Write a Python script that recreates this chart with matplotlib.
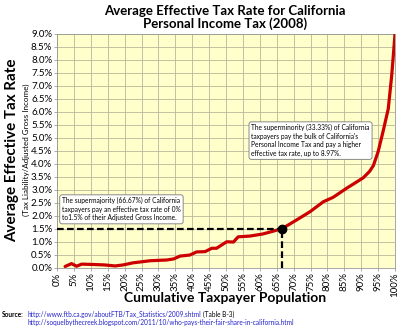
import matplotlib
matplotlib.use('Agg')
import matplotlib.pyplot as plt
from matplotlib.ticker import FuncFormatter, MultipleLocator

plt.rcParams['font.family'] = ['Lato', 'DejaVu Sans']

# cumulative taxpayer population (%) and average effective tax rate (%)
population = [2.4, 4.3, 5.8, 7.3, 10.0, 14.0, 17.2, 19.6, 22.5, 27.5, 32.5, 34.5,
              36.4, 39.3, 41.3, 43.8, 45.8, 47.2, 50.2, 52.2, 53.6, 57.1, 60.9,
              64.0, 66.67, 70.9, 74.9, 78.8, 81.7, 85.7, 90.6, 92.5, 93.6, 95.0,
              96.5, 98.0, 99.0, 99.5, 100.0]
tax_rate = [0.04, 0.15, 0.05, 0.13, 0.12, 0.10, 0.06, 0.10, 0.18, 0.26, 0.29, 0.33,
            0.44, 0.48, 0.60, 0.61, 0.74, 0.74, 0.99, 0.98, 1.18, 1.21, 1.29,
            1.40, 1.50, 1.83, 2.15, 2.53, 2.70, 3.05, 3.45, 3.70, 3.92, 4.45,
            5.25, 6.10, 7.35, 8.15, 8.97]

split_pop = 66.67
split_rate = 1.5

fig = plt.figure(figsize=(4, 3.26), dpi=100)
ax = fig.add_axes([0.1425, 0.1794, 0.845, 0.7178])
ax.set_facecolor('#FFFFCC')

ax.plot(population, tax_rate, color='#CC0000', lw=2.3, solid_capstyle='round', zorder=3)
ax.plot([0, split_pop], [split_rate, split_rate], color='black', lw=1.6, ls=(0, (3, 1.5)), zorder=4)
ax.plot([split_pop, split_pop], [0, split_rate], color='black', lw=1.6, ls=(0, (3, 1.5)), zorder=4)
ax.plot([split_pop], [split_rate], 'o', color='black', ms=6, zorder=5)

ax.set_xlim(0, 100)
ax.set_ylim(0, 9)
ax.xaxis.set_major_locator(MultipleLocator(5))
ax.yaxis.set_major_locator(MultipleLocator(0.5))
ax.xaxis.set_major_formatter(FuncFormatter(lambda v, p: '%d%%' % v))
ax.yaxis.set_major_formatter(FuncFormatter(lambda v, p: '%.1f%%' % v))
ax.grid(True, color='#B8B89A', lw=0.6)
ax.set_axisbelow(True)
for s in ax.spines.values():
    s.set_color('#999999')
    s.set_linewidth(0.6)
ax.tick_params(labelsize=7, length=2, width=0.5, color='#888888', pad=1.5)
plt.setp(ax.get_xticklabels(), rotation=90)

ax.text(1.5, 1.77, "The supermajority (66.67%) of California\ntaxpayers pay an effective tax rate of 0%\nto1.5% of their Adjusted Gross Income.",
        fontsize=4.8, va='bottom', ha='left', linespacing=1.25, zorder=6,
        bbox=dict(boxstyle='round,pad=0.35', fc='white', ec='#777777', lw=0.6))
ax.text(57.5, 4.25, "The superminority (33.33%) of California\ntaxpayers pay the bulk of California's\nPersonal Income Tax and pay a higher\neffective tax rate, up to 8.97%.",
        fontsize=4.8, va='bottom', ha='left', linespacing=1.25, zorder=6,
        bbox=dict(boxstyle='round,pad=0.35', fc='white', ec='#777777', lw=0.6))

fig.text(0.5625, 0.985, "Average Effective Tax Rate for California\nPersonal Income Tax (2008)",
         ha='center', va='top', fontsize=9.5, fontweight='bold', linespacing=1.0)
fig.text(0.03, 0.54, "Average Effective Tax Rate", rotation=90, ha='center', va='center',
         fontsize=10.9, fontweight='bold')
fig.text(0.066, 0.54, "(Tax Liability/Adjusted Gross Income)", rotation=90, ha='center', va='center',
         fontsize=5.8)
fig.text(0.5625, 0.085, "Cumulative Taxpayer Population", ha='center', va='center',
         fontsize=10, fontweight='bold')

src = fig.text(0.005, 0.036, "Source:", fontsize=4.7, fontweight='bold', va='center')
url1 = fig.text(0.068, 0.036, "http://www.ftb.ca.gov/aboutFTB/Tax_Statistics/2009.shtml", fontsize=4.7,
                color='#2222CC', va='center')
fig.text(0.068, 0.010, "http://soquelbythecreek.blogspot.com/2011/10/who-pays-their-fair-share-in-california.html",
         fontsize=4.7, color='#2222CC', va='center')
fig.canvas.draw()
bb = url1.get_window_extent().transformed(fig.transFigure.inverted())
fig.text(bb.x1 + 0.006, 0.036, "(Table B-3)", fontsize=4.7, va='center')

fig.savefig('out.png', dpi=100)
